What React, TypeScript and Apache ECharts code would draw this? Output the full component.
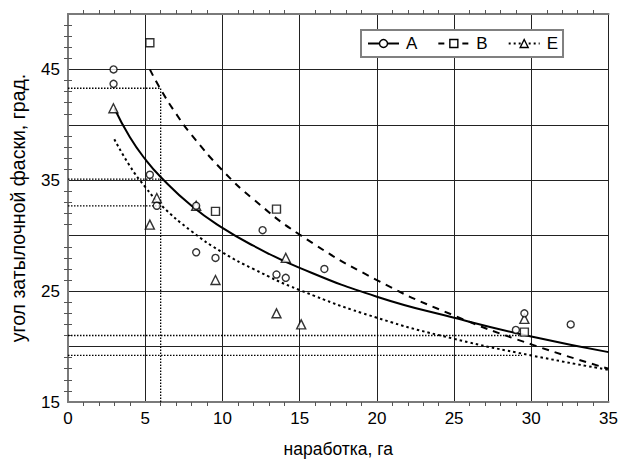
import React, { useEffect, useRef } from "react";
import * as echarts from "echarts";

// Fitted curves
const curveA: number[][] = [[3, 41.5], [4, 38.9], [5, 36.9], [6, 35.3], [8, 32.7], [10, 30.7], [12, 29.1], [15, 27.1], [20, 24.5], [25, 22.6], [30, 20.9], [35, 19.5]];
const curveB: number[][] = [[5.3, 45.0], [6, 43.2], [7, 41.0], [8, 39.1], [10, 35.9], [12, 33.3], [15, 30.1], [20, 26.0], [25, 22.8], [30, 20.2], [35, 18.0]];
const curveE: number[][] = [[3, 38.7], [4, 36.3], [5, 34.4], [6, 32.8], [8, 30.4], [10, 28.5], [12, 27.0], [15, 25.1], [20, 22.6], [25, 20.7], [30, 19.2], [35, 17.9]];

// Measured points
const pointsA: number[][] = [[2.95, 45.0], [2.95, 43.7], [5.3, 35.5], [5.75, 32.7], [8.3, 32.7], [8.3, 28.5], [9.55, 28.0], [12.6, 30.5], [13.5, 26.5], [14.1, 26.2], [16.6, 27.0], [29.0, 21.5], [29.55, 23.0], [32.55, 22.0]];
const pointsB: number[][] = [[5.3, 47.4], [9.55, 32.2], [13.5, 32.4], [29.55, 21.3]];
const pointsE: number[][] = [[2.94, 41.5], [5.3, 31.0], [5.75, 33.4], [8.3, 32.7], [9.55, 26.0], [13.5, 23.0], [14.1, 28.0], [15.1, 22.0], [29.55, 22.5]];

// Dotted reference segments
const refLines: number[][][] = [
  [[6, 15], [6, 43.3]],
  [[0, 43.3], [6, 43.3]],
  [[0, 35.1], [6, 35.1]],
  [[0, 32.7], [6, 32.7]],
  [[0, 21.0], [29.4, 21.0]],
  [[0, 19.2], [29.4, 19.2]],
];

const seriesNames = ["A", "B", "E"];
const yLabelValues = [15, 25, 35, 45];

const FONT = "Liberation Sans, Arial, sans-serif";

export default function App() {
  const ref = useRef<HTMLDivElement>(null);
  useEffect(() => {
    if (!ref.current) return;
    const chart = echarts.init(ref.current, null, { renderer: "svg" });
    const frameLine = { show: true, lineStyle: { color: "#7a7a7a", width: 2 } };
    const minor = { show: true, splitNumber: 5, length: 4, lineStyle: { color: "#555", width: 1 } };
    const symStyle = { color: "#fff", borderColor: "#000", borderWidth: 1.4 };
    const option: any = {
      animation: false,
      backgroundColor: "#fff",
      textStyle: { fontFamily: FONT },
      grid: { left: 66, right: 8, top: 14, bottom: 60, containLabel: false },
      legend: {
        left: 361,
        top: 30,
        orient: "horizontal",
        backgroundColor: "#fff",
        borderColor: "#808080",
        borderWidth: 2,
        borderRadius: 0,
        padding: [5, 5, 5, 6],
        itemWidth: 31,
        itemHeight: 10,
        itemGap: 20,
        textStyle: { fontSize: 17, fontFamily: FONT, color: "#000", padding: [0, 0, 0, 2] },
        itemStyle: { color: "#fff", borderColor: "#000", borderWidth: 1.4 },
        data: [
          { name: "A", lineStyle: { color: "#000", width: 2, type: "solid" } },
          { name: "B", lineStyle: { color: "#000", width: 2, type: [6, 6] } },
          { name: "E", lineStyle: { color: "#000", width: 2, type: [2, 3] } },
        ],
      },
      xAxis: [
        {
          type: "value",
          min: 0,
          max: 35,
          interval: 5,
          name: "наработка, га",
          nameLocation: "middle",
          nameGap: 38,
          nameTextStyle: { fontSize: 17.5, fontFamily: FONT, color: "#000" },
          axisLine: frameLine,
          axisTick: { show: false },
          minorTick: minor,
          axisLabel: { fontSize: 17, fontFamily: FONT, color: "#000", margin: 8 },
          splitLine: { show: true, lineStyle: { color: "#222", width: 1 } },
        },
        {
          type: "value",
          position: "top",
          min: 0,
          max: 35,
          interval: 5,
          axisLine: frameLine,
          axisTick: { show: false },
          minorTick: minor,
          axisLabel: { show: false },
          splitLine: { show: false },
        },
      ],
      yAxis: [
        {
          type: "value",
          min: 15,
          max: 50,
          interval: 5,
          name: "угол затылочной фаски, град.",
          nameLocation: "middle",
          nameGap: 40,
          nameTextStyle: { fontSize: 19.5, fontFamily: FONT, color: "#000" },
          axisLine: frameLine,
          axisTick: { show: false },
          minorTick: minor,
          axisLabel: {
            fontSize: 17,
            fontFamily: FONT,
            color: "#000",
            margin: 8,
            formatter: (v: number) => (yLabelValues.indexOf(v) >= 0 ? String(v) : ""),
          },
          splitLine: { show: true, lineStyle: { color: "#222", width: 1 } },
        },
        {
          type: "value",
          position: "right",
          min: 15,
          max: 50,
          interval: 5,
          axisLine: frameLine,
          axisTick: { show: false },
          minorTick: minor,
          axisLabel: { show: false },
          splitLine: { show: false },
        },
      ],
      series: [
        ...refLines.map((seg, i) => ({
          name: "ref" + i,
          type: "line",
          data: seg,
          symbol: "none",
          silent: true,
          z: 1,
          lineStyle: { color: "#000", width: 1.3, type: [1.5, 1.5] },
        })),
        {
          name: seriesNames[0],
          type: "line",
          data: curveA,
          smooth: true,
          symbol: "circle",
          showSymbol: false,
          itemStyle: symStyle,
          lineStyle: { color: "#000", width: 2, type: "solid" },
          z: 3,
        },
        {
          name: seriesNames[1],
          type: "line",
          data: curveB,
          smooth: true,
          symbol: "rect",
          showSymbol: false,
          itemStyle: symStyle,
          lineStyle: { color: "#000", width: 2, type: [7, 6] },
          z: 3,
        },
        {
          name: seriesNames[2],
          type: "line",
          data: curveE,
          smooth: true,
          symbol: "triangle",
          showSymbol: false,
          itemStyle: symStyle,
          lineStyle: { color: "#000", width: 2, type: [2.5, 3] },
          z: 3,
        },
        {
          name: "E-data",
          type: "scatter",
          data: pointsE,
          symbol: "triangle",
          symbolSize: 9,
          itemStyle: symStyle,
          z: 4,
        },
        {
          name: "B-data",
          type: "scatter",
          data: pointsB,
          symbol: "rect",
          symbolSize: 8,
          itemStyle: symStyle,
          z: 5,
        },
        {
          name: "A-data",
          type: "scatter",
          data: pointsA,
          symbol: "circle",
          symbolSize: 7,
          itemStyle: symStyle,
          z: 6,
        },
      ],
    };
    chart.setOption(option);
    return () => chart.dispose();
  }, []);
  return (
    <div
      ref={ref}
      style={{ position: "fixed", left: 0, top: 0, width: 621, height: 463, background: "#fff" }}
    />
  );
}
